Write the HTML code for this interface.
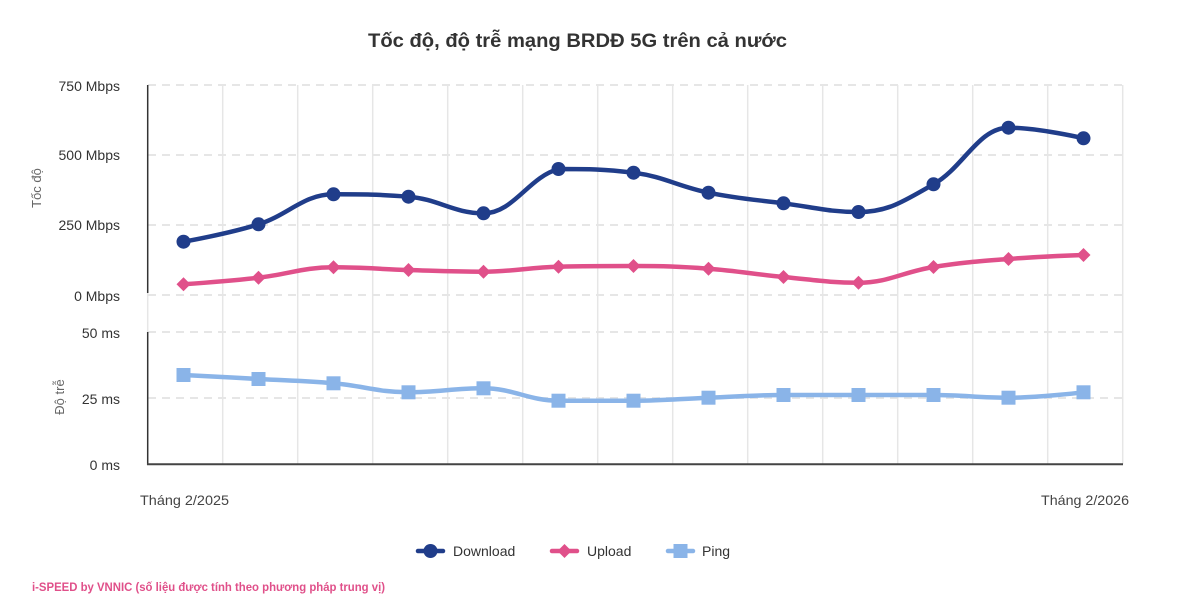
<!DOCTYPE html>
<html>
<head>
<meta charset="utf-8">
<style>
  html, body { margin: 0; padding: 0; background: #ffffff; }
  body { width: 1200px; height: 613px; overflow: hidden; }
  svg { display: block; font-family: "Liberation Sans", "DejaVu Sans", sans-serif; }
</style>
</head>
<body>
<svg width="1200" height="613" viewBox="0 0 1200 613" xmlns="http://www.w3.org/2000/svg">
  <rect x="0" y="0" width="1200" height="613" fill="#ffffff"/>

  <!-- Title -->
  <text x="577.5" y="47" text-anchor="middle" font-size="19" font-weight="bold" fill="#333333" textLength="419" lengthAdjust="spacingAndGlyphs">Tốc độ, độ trễ mạng BRDĐ 5G trên cả nước</text>

  <!-- Vertical grid lines -->
  <g stroke="#e6e6e6" stroke-width="1.5">
    <line x1="222.7" y1="85" x2="222.7" y2="464"/>
    <line x1="297.7" y1="85" x2="297.7" y2="464"/>
    <line x1="372.7" y1="85" x2="372.7" y2="464"/>
    <line x1="447.7" y1="85" x2="447.7" y2="464"/>
    <line x1="522.7" y1="85" x2="522.7" y2="464"/>
    <line x1="597.7" y1="85" x2="597.7" y2="464"/>
    <line x1="672.7" y1="85" x2="672.7" y2="464"/>
    <line x1="747.7" y1="85" x2="747.7" y2="464"/>
    <line x1="822.7" y1="85" x2="822.7" y2="464"/>
    <line x1="897.7" y1="85" x2="897.7" y2="464"/>
    <line x1="972.7" y1="85" x2="972.7" y2="464"/>
    <line x1="1047.7" y1="85" x2="1047.7" y2="464"/>
    <line x1="1122.7" y1="85" x2="1122.7" y2="464"/>
    <line x1="147.7" y1="293" x2="147.7" y2="332"/>
  </g>

  <!-- Horizontal dashed grid lines -->
  <g stroke="#e6e6e6" stroke-width="2" stroke-dasharray="8,6">
    <line x1="148" y1="85" x2="1123" y2="85"/>
    <line x1="148" y1="155" x2="1123" y2="155"/>
    <line x1="148" y1="225" x2="1123" y2="225"/>
    <line x1="148" y1="295" x2="1123" y2="295"/>
    <line x1="148" y1="332" x2="1123" y2="332"/>
    <line x1="148" y1="398" x2="1123" y2="398"/>
  </g>

  <!-- Axis lines -->
  <g stroke="#333333" stroke-width="1.5">
    <line x1="147.7" y1="85" x2="147.7" y2="293"/>
    <line x1="147.7" y1="332" x2="147.7" y2="465"/>
  </g>
  <line x1="147" y1="464.3" x2="1123" y2="464.3" stroke="#444444" stroke-width="2"/>

  <!-- Y axis labels -->
  <g font-size="14" fill="#333333" text-anchor="end">
    <text x="120" y="91">750 Mbps</text>
    <text x="120" y="160">500 Mbps</text>
    <text x="120" y="230">250 Mbps</text>
    <text x="120" y="301">0 Mbps</text>
    <text x="120" y="338">50 ms</text>
    <text x="120" y="404">25 ms</text>
    <text x="120" y="470">0 ms</text>
  </g>

  <!-- Y axis titles -->
  <text x="0" y="0" font-size="13" fill="#666666" text-anchor="middle" transform="translate(41,188) rotate(-90)">Tốc độ</text>
  <text x="0" y="0" font-size="13" fill="#666666" text-anchor="middle" transform="translate(64,397) rotate(-90)">Độ trễ</text>

  <!-- X axis labels -->
  <g font-size="14" fill="#444444" text-anchor="middle">
    <text x="184.5" y="505" textLength="89" lengthAdjust="spacingAndGlyphs">Tháng 2/2025</text>
    <text x="1085" y="505" textLength="88" lengthAdjust="spacingAndGlyphs">Tháng 2/2026</text>
  </g>

  <!-- Download series -->
  <path fill="none" stroke="#203d8a" stroke-width="4.5" stroke-linecap="round" stroke-linejoin="round"
    d="M183.5,241.7
       C183.5,241.7 228.5,233.78 258.5,224.3
       C288.5,214.82 303.5,194.3 333.5,194.3
       C363.5,194.3 378.5,194.3 408.5,196.7
       C438.5,199.1 453.5,213.3 483.5,213.3
       C513.5,213.3 528.5,177.12 558.5,169
       C588.5,169 603.5,169 633.5,172.7
       C663.5,176.4 678.5,186.58 708.5,192.7
       C738.5,198.82 753.5,199.44 783.5,203.3
       C813.5,207.16 828.5,212 858.5,212
       C888.5,212 903.5,201.16 933.5,184.3
       C963.5,167.44 978.5,127.7 1008.5,127.7
       C1038.5,127.7 1083.5,138.3 1083.5,138.3"/>
  <g fill="#203d8a">
    <circle cx="183.5" cy="241.7" r="7"/>
    <circle cx="258.5" cy="224.3" r="7"/>
    <circle cx="333.5" cy="194.3" r="7"/>
    <circle cx="408.5" cy="196.7" r="7"/>
    <circle cx="483.5" cy="213.3" r="7"/>
    <circle cx="558.5" cy="169" r="7"/>
    <circle cx="633.5" cy="172.7" r="7"/>
    <circle cx="708.5" cy="192.7" r="7"/>
    <circle cx="783.5" cy="203.3" r="7"/>
    <circle cx="858.5" cy="212" r="7"/>
    <circle cx="933.5" cy="184.3" r="7"/>
    <circle cx="1008.5" cy="127.7" r="7"/>
    <circle cx="1083.5" cy="138.3" r="7"/>
  </g>

  <!-- Upload series -->
  <path fill="none" stroke="#e0508a" stroke-width="4.5" stroke-linecap="round" stroke-linejoin="round"
    d="M183.5,284.3
       C183.5,284.3 228.5,281.1 258.5,277.7
       C288.5,274.3 303.5,267.3 333.5,267.3
       C363.5,267.3 378.5,269.12 408.5,270
       C438.5,270.88 453.5,271.7 483.5,271.7
       C513.5,271.7 528.5,267.4 558.5,266.7
       C588.5,266 603.5,266 633.5,266
       C663.5,266 678.5,266.5 708.5,268.7
       C738.5,270.9 753.5,274.2 783.5,277
       C813.5,279.8 828.5,282.7 858.5,282.7
       C888.5,282.7 903.5,271.74 933.5,267
       C963.5,262.26 978.5,261.4 1008.5,259
       C1038.5,256.6 1083.5,255 1083.5,255"/>
  <g fill="#e0508a">
    <path d="M183.5,277.3 L190.5,284.3 L183.5,291.3 L176.5,284.3 Z"/>
    <path d="M258.5,270.7 L265.5,277.7 L258.5,284.7 L251.5,277.7 Z"/>
    <path d="M333.5,260.3 L340.5,267.3 L333.5,274.3 L326.5,267.3 Z"/>
    <path d="M408.5,263 L415.5,270 L408.5,277 L401.5,270 Z"/>
    <path d="M483.5,264.7 L490.5,271.7 L483.5,278.7 L476.5,271.7 Z"/>
    <path d="M558.5,259.7 L565.5,266.7 L558.5,273.7 L551.5,266.7 Z"/>
    <path d="M633.5,259 L640.5,266 L633.5,273 L626.5,266 Z"/>
    <path d="M708.5,261.7 L715.5,268.7 L708.5,275.7 L701.5,268.7 Z"/>
    <path d="M783.5,270 L790.5,277 L783.5,284 L776.5,277 Z"/>
    <path d="M858.5,275.7 L865.5,282.7 L858.5,289.7 L851.5,282.7 Z"/>
    <path d="M933.5,260 L940.5,267 L933.5,274 L926.5,267 Z"/>
    <path d="M1008.5,252 L1015.5,259 L1008.5,266 L1001.5,259 Z"/>
    <path d="M1083.5,248 L1090.5,255 L1083.5,262 L1076.5,255 Z"/>
  </g>

  <!-- Ping series -->
  <path fill="none" stroke="#8ab4e8" stroke-width="4.5" stroke-linecap="round" stroke-linejoin="round"
    d="M183.5,375
       C183.5,375 228.5,377.34 258.5,379
       C288.5,380.66 303.5,380.64 333.5,383.3
       C363.5,385.96 378.5,392.3 408.5,392.3
       C438.5,392.3 453.5,388.3 483.5,388.3
       C513.5,388.3 528.5,400.7 558.5,400.7
       C588.5,400.7 603.5,400.7 633.5,400.7
       C663.5,400.7 678.5,398.84 708.5,397.7
       C738.5,396.56 753.5,395 783.5,395
       C813.5,395 828.5,395 858.5,395
       C888.5,395 903.5,395 933.5,395
       C963.5,395 978.5,397.7 1008.5,397.7
       C1038.5,397.7 1083.5,392.3 1083.5,392.3"/>
  <g fill="#8ab4e8">
    <rect x="176.5" y="368" width="14" height="14"/>
    <rect x="251.5" y="372" width="14" height="14"/>
    <rect x="326.5" y="376.3" width="14" height="14"/>
    <rect x="401.5" y="385.3" width="14" height="14"/>
    <rect x="476.5" y="381.3" width="14" height="14"/>
    <rect x="551.5" y="393.7" width="14" height="14"/>
    <rect x="626.5" y="393.7" width="14" height="14"/>
    <rect x="701.5" y="390.7" width="14" height="14"/>
    <rect x="776.5" y="388" width="14" height="14"/>
    <rect x="851.5" y="388" width="14" height="14"/>
    <rect x="926.5" y="388" width="14" height="14"/>
    <rect x="1001.5" y="390.7" width="14" height="14"/>
    <rect x="1076.5" y="385.3" width="14" height="14"/>
  </g>

  <!-- Legend -->
  <g>
    <line x1="418" y1="551" x2="443" y2="551" stroke="#203d8a" stroke-width="4.5" stroke-linecap="round"/>
    <circle cx="430.5" cy="551" r="7" fill="#203d8a"/>
    <text x="453" y="556" font-size="14" fill="#333333">Download</text>

    <line x1="552" y1="551" x2="577" y2="551" stroke="#e0508a" stroke-width="4.5" stroke-linecap="round"/>
    <path d="M564.5,544 L571.5,551 L564.5,558 L557.5,551 Z" fill="#e0508a"/>
    <text x="587" y="556" font-size="14" fill="#333333">Upload</text>

    <line x1="668" y1="551" x2="693" y2="551" stroke="#8ab4e8" stroke-width="4.5" stroke-linecap="round"/>
    <rect x="673.5" y="544" width="14" height="14" fill="#8ab4e8"/>
    <text x="702" y="556" font-size="14" fill="#333333">Ping</text>
  </g>

  <!-- Footer credit -->
  <text x="32" y="591" font-size="11.5" font-weight="bold" fill="#e0508a" textLength="353" lengthAdjust="spacingAndGlyphs">i-SPEED by VNNIC (số liệu được tính theo phương pháp trung vị)</text>
</svg>
</body>
</html>
